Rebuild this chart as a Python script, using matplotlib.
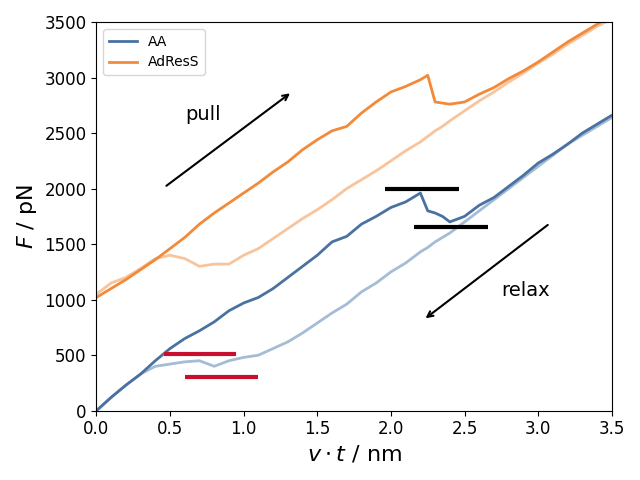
import matplotlib
matplotlib.use('Agg')
import matplotlib.pyplot as plt

# valores (nm, pN)
x = [0.0, 0.1, 0.2, 0.3, 0.4, 0.5, 0.6, 0.7, 0.8, 0.9, 1.0, 1.1, 1.2, 1.3, 1.4, 1.5, 1.6, 1.7,
     1.8, 1.9, 2.0, 2.1, 2.2, 2.25, 2.3, 2.35, 2.4, 2.5, 2.6, 2.7, 2.8, 2.9, 3.0, 3.1, 3.2, 3.3, 3.4, 3.5]
aa_pull = [0, 120, 230, 330, 450, 560, 650, 720, 800, 900, 970, 1020, 1100, 1200, 1300, 1400, 1520, 1570,
           1680, 1750, 1830, 1880, 1960, 1800, 1780, 1750, 1700, 1750, 1850, 1920, 2020, 2120, 2230, 2310,
           2400, 2500, 2580, 2660]
aa_relax = [0, 120, 230, 330, 400, 420, 440, 450, 400, 450, 480, 500, 560, 620, 700, 790, 880, 960,
            1070, 1150, 1250, 1330, 1430, 1470, 1520, 1560, 1600, 1700, 1800, 1900, 2000, 2100, 2200, 2300,
            2400, 2480, 2560, 2640]
ad_pull = [1020, 1100, 1180, 1270, 1360, 1460, 1560, 1680, 1780, 1870, 1960, 2050, 2150, 2240, 2350, 2440,
           2520, 2560, 2680, 2780, 2870, 2920, 2980, 3020, 2780, 2770, 2760, 2780, 2850, 2910, 2990, 3060,
           3140, 3230, 3320, 3400, 3480, 3560]
ad_relax = [1050, 1150, 1200, 1280, 1370, 1400, 1370, 1300, 1320, 1320, 1400, 1460, 1550, 1640, 1730, 1810,
            1900, 2000, 2080, 2160, 2250, 2340, 2420, 2470, 2520, 2560, 2610, 2700, 2790, 2870, 2960, 3040,
            3130, 3210, 3300, 3380, 3460, 3530]

# barras horizontais: (y, x0, x1)
black_bars = [(1993, 1.96, 2.46), (1652, 2.16, 2.66)]
red_bars = [(512, 0.46, 0.95), (305, 0.60, 1.10)]

fig, ax = plt.subplots(figsize=(6.4, 4.8), dpi=100)
ax.plot(x, aa_relax, color='#a5bcd6', lw=2)
ax.plot(x, ad_relax, color='#f8c49c', lw=2)
ax.plot(x, aa_pull, color='#4a72a0', lw=2, label='AA')
ax.plot(x, ad_pull, color='#f28a3a', lw=2, label='AdResS')

for y, x0, x1 in black_bars:
    ax.hlines(y, x0, x1, color='black', lw=3)
for y, x0, x1 in red_bars:
    ax.hlines(y, x0, x1, color='#c8102e', lw=3)

ax.annotate('', xy=(1.33, 2873), xytext=(0.46, 2010),
            arrowprops=dict(arrowstyle='->', color='black', lw=1.5))
ax.annotate('', xy=(2.22, 817), xytext=(3.08, 1688),
            arrowprops=dict(arrowstyle='->', color='black', lw=1.5))
ax.text(0.6, 2620, 'pull', fontsize=14)
ax.text(2.75, 1030, 'relax', fontsize=14)

ax.set_xlim(0, 3.5)
ax.set_ylim(0, 3500)
ax.set_xlabel(r'$v \cdot t$ / nm', fontsize=16)
ax.set_ylabel(r'$F$ / pN', fontsize=16)
ax.tick_params(labelsize=12)
ax.legend(loc='upper left', fontsize=10)

plt.tight_layout()
plt.savefig('out.png')
